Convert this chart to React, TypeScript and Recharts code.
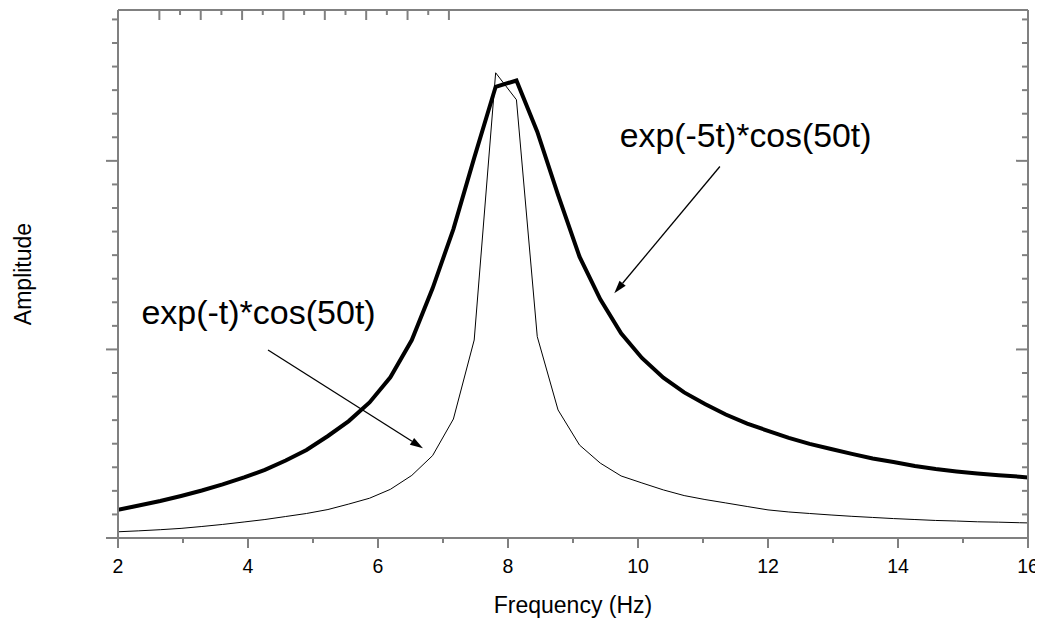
import React from 'react';
import { LineChart, Line, XAxis, YAxis, ReferenceLine, ReferenceDot, Label } from 'recharts';

// Frequency (Hz)
const freq = [2.00, 2.32, 2.65, 2.97, 3.29, 3.61, 3.94, 4.26, 4.58, 4.90, 5.23, 5.55, 5.87, 6.19, 6.52, 6.84, 7.16, 7.48, 7.81, 8.13, 8.45, 8.77, 9.10, 9.42, 9.74, 10.06, 10.39, 10.71, 11.03, 11.35, 11.68, 12.00, 12.32, 12.64, 12.97, 13.29, 13.61, 13.93, 14.26, 14.58, 14.90, 15.22, 15.55, 15.87, 16.00];
// exp(-t)*cos(50t) amplitude spectrum (thin)
const ampExp1 = [0.033, 0.038, 0.044, 0.051, 0.061, 0.072, 0.085, 0.098, 0.114, 0.130, 0.151, 0.180, 0.211, 0.258, 0.332, 0.437, 0.631, 1.050, 2.467, 2.324, 1.068, 0.679, 0.493, 0.397, 0.329, 0.292, 0.255, 0.225, 0.204, 0.186, 0.167, 0.149, 0.138, 0.130, 0.122, 0.115, 0.109, 0.103, 0.098, 0.093, 0.090, 0.086, 0.084, 0.081, 0.080];
// exp(-5t)*cos(50t) amplitude spectrum (thick)
const ampExp5 = [0.149, 0.172, 0.196, 0.223, 0.252, 0.284, 0.321, 0.361, 0.411, 0.467, 0.541, 0.620, 0.719, 0.852, 1.050, 1.324, 1.638, 2.016, 2.393, 2.426, 2.155, 1.820, 1.492, 1.266, 1.086, 0.955, 0.850, 0.772, 0.711, 0.655, 0.607, 0.568, 0.531, 0.499, 0.472, 0.446, 0.422, 0.403, 0.382, 0.366, 0.353, 0.342, 0.333, 0.325, 0.321];

const xMajorTicks = [2, 4, 6, 8, 10, 12, 14, 16];
const xMinorTicks = [3, 5, 7, 9, 11, 13, 15];
const yMajorTicks = [0, 1, 2];
const yMinorTicks = [0.125, 0.25, 0.375, 0.5, 0.625, 0.75, 0.875, 1.125, 1.25, 1.375, 1.5, 1.625, 1.75, 1.875, 2.125, 2.25, 2.375, 2.5, 2.625, 2.75];
const xDomain = [2, 16];
const yDomain = [0, 2.8];

const xTitle = 'Frequency (Hz)';
const yTitle = 'Amplitude';

const annotations = [
  { text: 'exp(-5t)*cos(50t)', x: 9.72, y: 2.074 },
  { text: 'exp(-t)*cos(50t)', x: 2.36, y: 1.135 },
];
const arrows = [
  { x1: 11.26, y1: 1.970, x2: 9.635, y2: 1.298 },
  { x1: 4.308, y1: 0.997, x2: 6.692, y2: 0.476 },
];

const data = freq.map((f, i) => ({ f, a1: ampExp1[i], a5: ampExp5[i] }));
const xTicks = [...xMajorTicks, ...xMinorTicks].sort((a, b) => a - b);
const yTicks = [...yMajorTicks, ...yMinorTicks].sort((a, b) => a - b);

const AXIS = '#808080';
const FONT = '"Liberation Sans", Arial, Helvetica, sans-serif';
const axisLineStyle = { stroke: AXIS, strokeWidth: 2 };

const BottomTick = (props: any) => {
  const { x, y, payload } = props;
  const v = payload.value;
  const major = xMajorTicks.includes(v);
  return (
    <g>
      <line x1={x} y1={y} x2={x} y2={y + (major ? 10 : 5)} stroke={AXIS} strokeWidth={2} />
      {major && (
        <text x={x} y={y + 35} textAnchor="middle" fontSize={19.5} fill="#000" fontFamily={FONT}>
          {v}
        </text>
      )}
    </g>
  );
};

const TopTick = (props: any) => {
  const { x, y, payload } = props;
  const major = xMajorTicks.includes(payload.value);
  return <line x1={x} y1={y} x2={x} y2={y + (major ? 10 : 5)} stroke={AXIS} strokeWidth={2} />;
};

const LeftTick = (props: any) => {
  const { x, y, payload } = props;
  const major = yMajorTicks.includes(payload.value);
  return <line x1={x} y1={y} x2={x - (major ? 12 : 6)} y2={y} stroke={AXIS} strokeWidth={2} />;
};

const RightTick = (props: any) => {
  const { x, y, payload } = props;
  const major = yMajorTicks.includes(payload.value);
  return <line x1={x} y1={y} x2={x - (major ? 12 : 6)} y2={y} stroke={AXIS} strokeWidth={2} />;
};

const ArrowShape = (p: any) => {
  const { x1, y1, x2, y2 } = p;
  const ang = Math.atan2(y2 - y1, x2 - x1);
  const L = 13;
  const W = 4;
  const bx = x2 - L * Math.cos(ang);
  const by = y2 - L * Math.sin(ang);
  const px = -Math.sin(ang) * W;
  const py = Math.cos(ang) * W;
  return (
    <g>
      <line x1={x1} y1={y1} x2={bx} y2={by} stroke="#000" strokeWidth={1.3} />
      <polygon points={`${x2},${y2} ${bx + px},${by + py} ${bx - px},${by - py}`} fill="#000" />
    </g>
  );
};

const makeTextShape = (text: string, size: number) => (p: any) => (
  <text x={p.cx} y={p.cy} fontSize={size} fill="#000" fontFamily={FONT}>
    {text}
  </text>
);

export default function App() {
  return (
    <>
      <style>{'html, body { overflow: hidden; }'}</style>
      <div style={{ fontFamily: FONT, width: 1035, height: 611 }}>
        <LineChart width={1035} height={611} data={data} margin={{ top: 0, right: 0, bottom: 0, left: 0 }}>
          <XAxis
            xAxisId="b"
            dataKey="f"
            type="number"
            orientation="bottom"
            domain={xDomain}
            allowDataOverflow
            ticks={xTicks}
            interval={0}
            tickSize={0}
            tickMargin={0}
            tickLine={false}
            tick={<BottomTick />}
            axisLine={axisLineStyle}
            height={81}
          >
            <Label
              content={(p: any) => {
                const vb = p.viewBox || { x: 110, y: 530, width: 910, height: 81 };
                return (
                  <text x={vb.x + vb.width / 2} y={vb.y + 75} textAnchor="middle" fontSize={23} fill="#000" fontFamily={FONT}>
                    {xTitle}
                  </text>
                );
              }}
            />
          </XAxis>
          <XAxis
            xAxisId="t"
            type="number"
            orientation="top"
            domain={xDomain}
            allowDataOverflow
            ticks={xTicks}
            interval={0}
            tickSize={0}
            tickMargin={0}
            tickLine={false}
            tick={<TopTick />}
            axisLine={axisLineStyle}
            height={2}
          />
          <YAxis
            yAxisId="l"
            type="number"
            orientation="left"
            domain={yDomain}
            allowDataOverflow
            ticks={yTicks}
            interval={0}
            tickSize={0}
            tickMargin={0}
            tickLine={false}
            tick={<LeftTick />}
            axisLine={axisLineStyle}
            width={110}
          >
            <Label
              content={(p: any) => {
                const vb = p.viewBox || { x: 0, y: 2, width: 110, height: 528 };
                const cx = 23;
                const cy = vb.y + vb.height / 2;
                return (
                  <text x={cx} y={cy} transform={`rotate(-90, ${cx}, ${cy})`} textAnchor="middle" fontSize={23} fill="#000" fontFamily={FONT}>
                    {yTitle}
                  </text>
                );
              }}
            />
          </YAxis>
          <YAxis
            yAxisId="r"
            type="number"
            orientation="right"
            domain={yDomain}
            allowDataOverflow
            ticks={yTicks}
            interval={0}
            tickSize={0}
            tickMargin={0}
            tickLine={false}
            tick={<RightTick />}
            axisLine={axisLineStyle}
            width={15}
          />
          <Line
            xAxisId="b"
            yAxisId="l"
            type="linear"
            dataKey="a1"
            stroke="#000"
            strokeWidth={1}
            dot={false}
            activeDot={false}
            isAnimationActive={false}
          />
          <Line
            xAxisId="b"
            yAxisId="l"
            type="linear"
            dataKey="a5"
            stroke="#000"
            strokeWidth={4}
            dot={false}
            activeDot={false}
            isAnimationActive={false}
          />
          {arrows.map((a, i) => (
            <ReferenceLine
              key={`arr${i}`}
              xAxisId="b"
              yAxisId="l"
              segment={[{ x: a.x1, y: a.y1 }, { x: a.x2, y: a.y2 }]}
              stroke="#000"
              shape={ArrowShape}
            />
          ))}
          {annotations.map((a, i) => (
            <ReferenceDot
              key={`ann${i}`}
              xAxisId="b"
              yAxisId="l"
              x={a.x}
              y={a.y}
              r={0}
              shape={makeTextShape(a.text, i === 0 ? 33.8 : 34)}
            />
          ))}
        </LineChart>
      </div>
    </>
  );
}
